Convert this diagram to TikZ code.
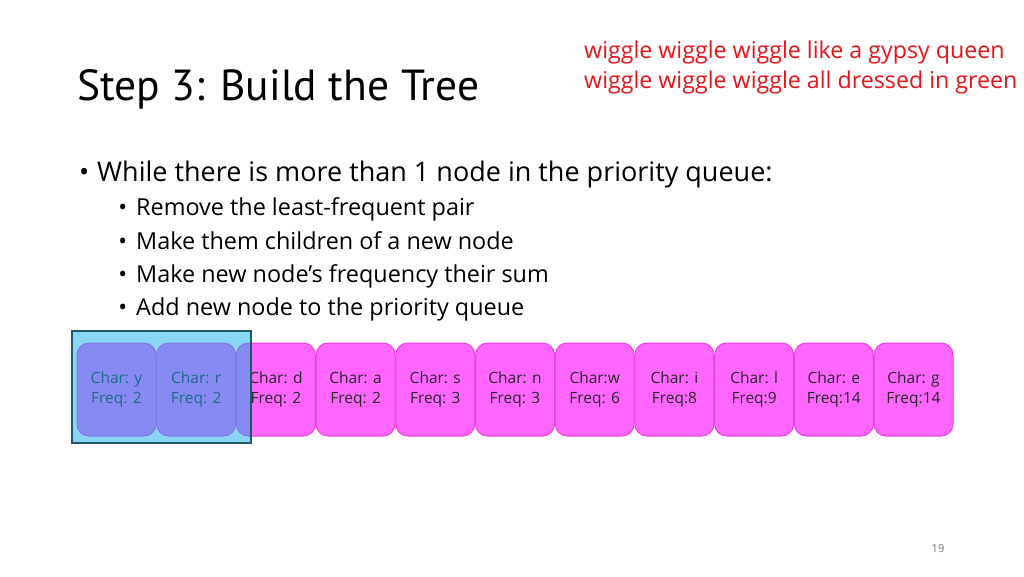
\documentclass[tikz,border=0pt]{standalone}
\usepackage{fontspec}
\setmainfont{Open Sans}
\newfontfamily\titlefont{PT Sans}
\begin{document}
\begin{tikzpicture}[x=1pt,y=-1pt,
  qbox/.style={draw=magB, fill=magF, line width=1pt, rounded corners=12pt, minimum width=79pt, minimum height=93pt, inner sep=0pt, align=center, font=\fontsize{15.5}{20}\selectfont, text=black!85},
  bul/.style={anchor=base west, inner sep=0pt, font=\fontsize{27}{30}\selectfont},
  sbul/.style={anchor=base west, inner sep=0pt, font=\fontsize{23.4}{26}\selectfont}]
\definecolor{magF}{HTML}{FF66FF}
\definecolor{magB}{HTML}{EE3FDD}
\definecolor{hiF}{HTML}{12AEE8}
\definecolor{hiB}{HTML}{1F5A6A}
\definecolor{redT}{HTML}{E8141A}
\useasboundingbox (0,0) rectangle (1024,576);
\fill[white] (0,0) rectangle (1024,576);
\node[anchor=base west, inner sep=0pt, font=\titlefont\fontsize{43.5}{50}\selectfont] (title) at (77,100) {Step 3: Build the Tree};
\node[anchor=base west, inner sep=0pt, text=redT, font=\fontsize{23.2}{30}\selectfont] (red1) at (584,58) {wiggle wiggle wiggle like a gypsy queen};
\node[anchor=base west, inner sep=0pt, text=redT, font=\fontsize{23.2}{30}\selectfont] (red2) at (584,88) {wiggle wiggle wiggle all dressed in green};
\node[bul] (b0) at (97,181) {\llap{•\hspace{8pt}}While there is more than 1 node in the priority queue:};
\node[sbul] (b1) at (136,215) {\llap{•\hspace{9pt}}Remove the least-frequent pair};
\node[sbul] (b2) at (136,249) {\llap{•\hspace{9pt}}Make them children of a new node};
\node[sbul] (b3) at (136,282) {\llap{•\hspace{9pt}}Make new node’s frequency their sum};
\node[sbul] (b4) at (136,315) {\llap{•\hspace{9pt}}Add new node to the priority queue};
\foreach \c/\f [count=\i from 0] in {y/Freq: 2, r/Freq: 2, d/Freq: 2, a/Freq: 2, s/Freq: 3, n/Freq: 3, w/Freq: 6, i/Freq:8, l/Freq:9, e/Freq:14, g/Freq:14}{
  \ifnum\i=6
    \node[qbox] (q\i) at ({116.5+79.7*\i},389.5) {Char:\c\\\f};
  \else
    \node[qbox] (q\i) at ({116.5+79.7*\i},389.5) {Char: \c\\\f};
  \fi
}
\node[draw=hiB, line width=1.5pt, fill=hiF, fill opacity=0.5, minimum width=179pt, minimum height=112pt, inner sep=0pt] (hl) at (161.5,387) {};
\node[inner sep=0pt, text=black!55, font=\fontsize{11}{13}\selectfont] (pg) at (938,549) {19};
\end{tikzpicture}
\end{document}
